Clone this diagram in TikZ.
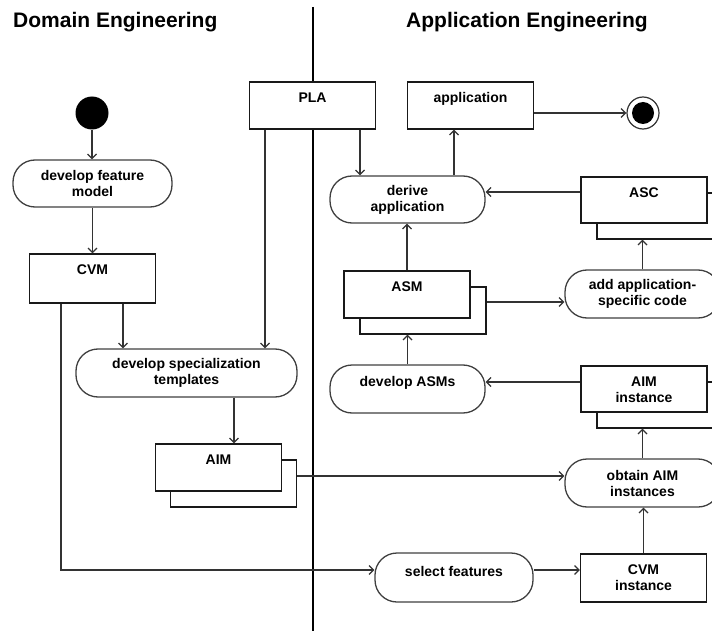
\documentclass[tikz,border=0pt]{standalone}
\usepackage{fontspec}
\setmainfont{Liberation Sans}
\usetikzlibrary{arrows.meta}

\begin{document}
\begin{tikzpicture}[x=1pt,y=-1pt,
  conn/.style={draw=black!80, line width=1.2pt, -{Straight Barb[length=4.5pt,width=9pt]}},
  lbl/.style={font=\fontsize{14}{16}\selectfont\bfseries, align=center, inner sep=0pt},
  box/.style={draw=black!90, line width=1.3pt, fill=white, minimum width=126pt,
    minimum height=47pt, inner sep=0pt},
  boxtext/.style={label={[lbl,anchor=north,yshift=-11pt]north:#1}},
  action/.style={draw=black!75, line width=1.3pt, fill=white, rounded corners=22pt,
    minimum width=155pt, minimum height=48pt, inner sep=0pt},
  acttext/.style={label={[lbl]center:#1}},
  actline/.style={label={[lbl,yshift=6pt]center:#1}},
  title/.style={font=\fontsize{21}{25}\selectfont\bfseries, inner sep=0pt, anchor=base west}
]
\useasboundingbox (0,0) rectangle (712,631);
\clip (0,0) rectangle (712,631);

% swimlane divider and headings
\coordinate (divtop) at (313,7);
\coordinate (divbot) at (313,631);
\draw[line width=2pt] (divtop) -- (divbot);
\node[title] (dtitle) at (13,28) {Domain Engineering};
\node[title] (atitle) at (406,28) {Application Engineering};

% initial and final states
\node[circle, fill=black, minimum size=33pt, inner sep=0pt] (start) at (92,113) {};
\node[circle, draw=black!80, line width=1.2pt, fill=white, minimum size=32pt, inner sep=0pt] (end) at (643,113) {};
\node[circle, fill=black, minimum size=22pt, inner sep=0pt] (endin) at (end) {};

% domain engineering
\node[action, minimum width=159pt, minimum height=47pt, acttext={develop feature\\model}] (dfm) at (92.5,183.5) {};
\node[box, minimum height=49pt, boxtext=CVM] (cvm) at (92.5,278.5) {};
\node[box, boxtext=PLA] (pla) at (312.5,105.5) {};
\node[action, minimum width=221pt, acttext={develop specialization\\templates}] (dst) at (186.5,373) {};
\node[box] (aimsh) at (233.5,483.5) {};
\node[box, boxtext=AIM] (aim) at (218.5,467.5) {};

% application engineering
\node[box, boxtext=application] (app) at (470.5,105.5) {};
\node[action, minimum height=47pt, acttext={derive\\application}] (derive) at (407.5,199.5) {};
\node[box, minimum height=46pt] (ascsh) at (660,216) {};
\node[box, minimum height=46pt, boxtext=ASC] (asc) at (644,200) {};
\node[box] (asmsh) at (423,310.5) {};
\node[box, boxtext=ASM] (asm) at (407,294.5) {};
\node[action, acttext={add application-\\specific code}] (add) at (642.5,294) {};
\node[action, actline={develop ASMs}] (dasm) at (407.5,389) {};
\node[box, minimum height=46pt] (aimish) at (660,405) {};
\node[box, minimum height=46pt, boxtext={AIM\\instance}] (aimi) at (644,389) {};
\node[action, acttext={obtain AIM\\instances}] (obtain) at (642.5,483) {};
\node[action, minimum width=158pt, minimum height=49pt, actline={select features}] (select) at (454,577.5) {};
\node[box, minimum height=48pt, boxtext={CVM\\instance}] (cvmi) at (643.5,578) {};

% flows in domain engineering
\draw[conn] (start.south) -- (start.south |- dfm.north);
\draw[conn] (dfm.south) -- (dfm.south |- cvm.north);
\draw[conn] ([xshift=30.5pt]cvm.south) -- ([xshift=30.5pt]cvm.south |- dst.north);
\draw[conn] ([xshift=-47.5pt]pla.south) -- ([xshift=-47.5pt]pla.south |- dst.north);
\draw[conn] ([xshift=47.5pt]dst.south) -- ([xshift=47.5pt]dst.south |- aim.north);
\draw[conn] ([xshift=-31.5pt]cvm.south) |- ([yshift=7.5pt]select.west);
\draw[conn] ([yshift=7.5pt]aimsh.east) -- ([yshift=7.5pt]aimsh.east -| obtain.west);

% flows in application engineering
\draw[conn] ([xshift=47.5pt]pla.south) -- ([xshift=47.5pt]pla.south |- derive.north);
\draw[conn] ([xshift=46.5pt]derive.north) -- ([xshift=46.5pt]derive.north |- app.south);
\draw[conn] ([yshift=-7.5pt]app.east) -- ([yshift=-7.5pt]app.east -| end.west);
\draw[conn] ([yshift=8pt]asc.west) -- ([yshift=8pt]asc.west -| derive.east);
\draw[conn] (asm.north) -- (asm.north |- derive.south);
\draw[conn] ([yshift=8.5pt]asmsh.east) -- ([yshift=8.5pt]asmsh.east -| add.west);
\draw[conn] (add.north) -- (add.north |- ascsh.south);
\draw[conn] (dasm.north) -- (dasm.north |- asmsh.south);
\draw[conn] ([yshift=7pt]aimi.west) -- ([yshift=7pt]aimi.west -| dasm.east);
\draw[conn] (obtain.north) -- (obtain.north |- aimish.south);
\draw[conn] (cvmi.north) -- (cvmi.north |- obtain.south);
\draw[conn] ([yshift=7.5pt]select.east) -- ([yshift=7.5pt]select.east -| cvmi.west);
\end{tikzpicture}
\end{document}
